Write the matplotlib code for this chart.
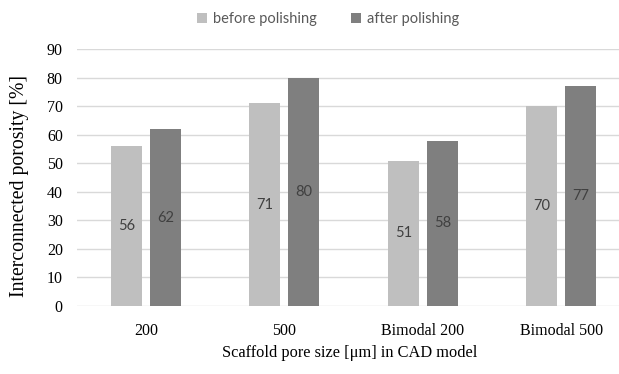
import matplotlib
matplotlib.use("Agg")
import matplotlib.pyplot as plt
import numpy as np

categories = ["200", "500", "Bimodal 200", "Bimodal 500"]
before = [56, 71, 51, 70]
after = [62, 80, 58, 77]
series_names = ["before polishing", "after polishing"]
yticks = [0, 10, 20, 30, 40, 50, 60, 70, 80, 90]

W, H = 619, 374
fig = plt.figure(figsize=(W / 100, H / 100), dpi=100)
left, right = 76.7 / W, 630.7 / W
bottom, top = (H - 306) / H, (H - 49.3) / H
ax = fig.add_axes([left, bottom, right - left, top - bottom])

x = np.arange(len(categories))
bw = 0.224
off = 0.141
c1, c2 = "#BFBFBF", "#7F7F7F"
b1 = ax.bar(x - off, before, bw, color=c1, label=series_names[0], zorder=3)
b2 = ax.bar(x + off, after, bw, color=c2, label=series_names[1], zorder=3)

for bars, vals in ((b1, before), (b2, after)):
    for rect, v in zip(bars, vals):
        ax.text(rect.get_x() + rect.get_width() / 2, v / 2, str(v),
                ha="center", va="center", fontsize=10.5, color="#404040",
                family="Lato", zorder=4)

ax.set_xlim(-0.5, 3.5)
ax.set_ylim(0, 90)
ax.set_yticks(yticks)
ax.set_xticks(x)
ax.set_xticklabels(categories, family="Liberation Serif", fontsize=11.5)
for lab in ax.get_yticklabels():
    lab.set_family("Liberation Serif")
    lab.set_fontsize(11.5)
ax.tick_params(length=0, pad=10)
ax.tick_params(axis="x", pad=12)
ax.grid(axis="y", color="#D9D9D9", linewidth=1, zorder=0)
for s in ax.spines.values():
    s.set_visible(False)

fig.text(20 / W, 1 - 186 / H, "Interconnected porosity [%]", family="Liberation Serif",
         fontsize=14.2, rotation=90, ha="center", va="center")
fig.text(350 / W, 1 - 353 / H, "Scaffold pore size [μm] in CAD model",
         family="Liberation Serif", fontsize=11.8, ha="center", va="center")

leg = fig.legend(loc="center", bbox_to_anchor=(328 / W, 1 - 19 / H), ncol=2, frameon=False,
                 prop={"family": "Lato", "size": 10.5}, handlelength=0.7, handleheight=0.7,
                 columnspacing=2.3, handletextpad=0.4)
for t in leg.get_texts():
    t.set_color("#595959")

fig.savefig("out.png", dpi=100)
